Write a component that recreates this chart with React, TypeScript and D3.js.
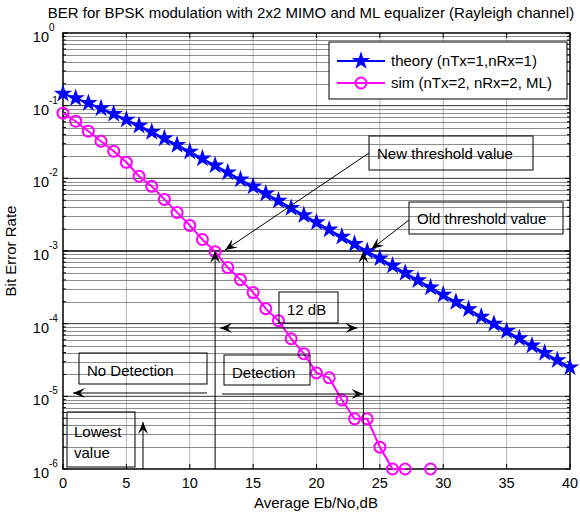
import React from 'react';
import * as d3 from 'd3';

// Eb/No in dB
const ebNo = d3.range(0, 41);
const theoryBer = [
  0.1464, 0.1267, 0.1085, 0.0919, 0.0771, 0.0642, 0.053, 0.0435, 0.0355, 0.0288,
  0.0233, 0.01874, 0.01506, 0.01208, 0.00967, 0.00772, 0.00617, 0.00492, 0.00391, 0.00311,
  0.00248, 0.00197, 0.00157, 0.00125, 0.000995, 0.000791, 0.000628, 0.000499, 0.000396, 0.000315,
  0.00025, 0.000199, 0.000158, 0.000125, 0.0000995, 0.0000791, 0.0000628, 0.0000499, 0.0000396, 0.0000315,
  0.000025,
];
// null = no errors counted (not plotted on log axis)
const simBer = [
  0.0788, 0.0611, 0.0445, 0.0324, 0.0236, 0.0166, 0.0107, 0.00776, 0.00513, 0.0034,
  0.00225, 0.00144, 0.00098, 0.000592, 0.000404, 0.000268, 0.000161, 0.00011, 0.000062, 0.0000386,
  0.000021, 0.000018, 0.0000089, 0.0000049, 0.0000049, 0.000002, 0.000001, 0.000001, null, 0.000001,
];
const xTicks = [0, 5, 10, 15, 20, 25, 30, 35, 40];
const yExps = [0, -1, -2, -3, -4, -5, -6];
const legendLabels = ['theory (nTx=1,nRx=1)', 'sim (nTx=2, nRx=2, ML)'];
const titleText = 'BER for BPSK modulation with 2x2 MIMO and ML equalizer (Rayleigh channel)';

const W = 580;
const H = 517;
const margin = { top: 33, right: 10, bottom: 48, left: 63 };
const font = 'Arial, "Liberation Sans", sans-serif';
const fs = 15;

const x = d3.scaleLinear().domain([0, 40]).range([margin.left, W - margin.right]);
const y = d3.scaleLog().domain([1e-6, 1]).range([H - margin.bottom, margin.top]);

const minorVals: number[] = [];
yExps.slice(1).forEach(e => {
  for (let k = 2; k <= 9; k++) minorVals.push(k * Math.pow(10, e));
});

// MATLAB-like filled arrowhead, tip at (x2,y2)
function arrowHead(x1: number, y1: number, x2: number, y2: number, len = 12, wid = 5) {
  const a = Math.atan2(y2 - y1, x2 - x1);
  const ux = Math.cos(a), uy = Math.sin(a);
  const px = -uy, py = ux;
  const bx = x2 - ux * len, by = y2 - uy * len;
  const nx = x2 - ux * len * 0.6, ny = y2 - uy * len * 0.6;
  return `M${x2},${y2}L${bx + px * wid},${by + py * wid}L${nx},${ny}L${bx - px * wid},${by - py * wid}Z`;
}

const Arrow = ({ x1, y1, x2, y2, both = false }: any) => (
  <g>
    <line x1={x1} y1={y1} x2={x2} y2={y2} stroke="#000" strokeWidth={1} />
    <path d={arrowHead(x1, y1, x2, y2)} fill="#000" />
    {both && <path d={arrowHead(x2, y2, x1, y1)} fill="#000" />}
  </g>
);

const Box = ({ x0, y0, w, h }: any) => (
  <rect x={x0} y={y0} width={w} height={h} fill="none" stroke="#000" strokeWidth={1} />
);

export default function App() {
  const x0 = margin.left, x1 = W - margin.right;
  const y0 = margin.top, y1 = H - margin.bottom;

  const theoryPts = ebNo.map((d, i) => [d, theoryBer[i]] as [number, number]);
  const simPts = simBer.map((v, i) => [i, v] as [number, number | null]);

  const line = d3.line<[number, number | null]>()
    .defined(d => d[1] != null)
    .x(d => x(d[0]))
    .y(d => y(d[1] as number));

  const star = d3.symbol().type(d3.symbolStar).size(105)();

  const thr = y(1e-3);
  const xa = x(12);
  const xb = x(23.7);

  return (
    <div style={{ position: 'absolute', left: 0, top: 0 }}>
      <svg width={W} height={H} style={{ display: 'block', background: '#fff' }} fontFamily={font}>
        <rect width={W} height={H} fill="#fff" />
        {/* grid */}
        {xTicks.slice(1, -1).map(t => (
          <line key={'gx' + t} x1={x(t)} x2={x(t)} y1={y0} y2={y1} stroke="#b4b4b4" strokeWidth={1} />
        ))}
        {minorVals.map(v => (
          <line key={'gm' + v} x1={x0} x2={x1} y1={Math.round(y(v)) + 0.5} y2={Math.round(y(v)) + 0.5} stroke="#6e6e6e" strokeWidth={0.8} />
        ))}
        {yExps.slice(1, -1).map(e => (
          <line key={'gy' + e} x1={x0} x2={x1} y1={y(Math.pow(10, e))} y2={y(Math.pow(10, e))} stroke={e === -3 ? '#000' : '#333'} strokeWidth={e === -3 ? 1.6 : 1} />
        ))}

        {/* axes frame and ticks */}
        <rect x={x0} y={y0} width={x1 - x0} height={y1 - y0} fill="none" stroke="#000" strokeWidth={1.5} />
        {xTicks.map(t => (
          <g key={'tx' + t}>
            <line x1={x(t)} x2={x(t)} y1={y1} y2={y1 - 5} stroke="#000" />
            <line x1={x(t)} x2={x(t)} y1={y0} y2={y0 + 5} stroke="#000" />
            <text x={x(t)} y={y1 + 19} textAnchor="middle" fontSize={14.5}>{t}</text>
          </g>
        ))}
        {yExps.map(e => (
          <g key={'ty' + e}>
            <line x1={x0} x2={x0 + 5} y1={y(Math.pow(10, e))} y2={y(Math.pow(10, e))} stroke="#000" />
            <line x1={x1} x2={x1 - 5} y1={y(Math.pow(10, e))} y2={y(Math.pow(10, e))} stroke="#000" />
            <text x={49} y={y(Math.pow(10, e)) + 9} textAnchor="end" fontSize={14.5}>10</text>
            <text x={49} y={y(Math.pow(10, e)) - 2} textAnchor="start" fontSize={10}>{e}</text>
          </g>
        ))}
        {minorVals.map(v => (
          <g key={'tm' + v}>
            <line x1={x0} x2={x0 + 3} y1={y(v)} y2={y(v)} stroke="#000" />
            <line x1={x1} x2={x1 - 3} y1={y(v)} y2={y(v)} stroke="#000" />
          </g>
        ))}

        {/* series */}
        <path d={line(theoryPts) || ''} fill="none" stroke="#0000ff" strokeWidth={2} />
        {theoryPts.map(d => (
          <path key={'s' + d[0]} d={star || ''} transform={`translate(${x(d[0])},${y(d[1])})`} fill="#0000ff" />
        ))}
        <path d={line(simPts) || ''} fill="none" stroke="#ff00ff" strokeWidth={2} />
        {simPts.filter(d => d[1] != null).map(d => (
          <circle key={'c' + d[0]} cx={x(d[0])} cy={y(d[1] as number)} r={5.5} fill="none" stroke="#ff00ff" strokeWidth={2} />
        ))}

        {/* annotations */}
        <Box x0={369} y0={136} w={164} h={34} />
        <text x={377} y={159} fontSize={fs}>New threshold value</text>
        <Arrow x1={369} y1={153} x2={xa + 10} y2={thr - 1} />

        <Box x0={409} y0={202} w={154} h={32} />
        <text x={417} y={224} fontSize={fs}>Old threshold value</text>
        <Arrow x1={409} y1={220} x2={xb + 8} y2={thr - 2} />

        <line x1={xa} x2={xa} y1={thr} y2={y1} stroke="#000" />
        <path d={arrowHead(xa, y1, xa, thr)} fill="#000" />
        <line x1={xb} x2={xb} y1={thr} y2={y1} stroke="#000" />
        <path d={arrowHead(xb, y1, xb, thr)} fill="#000" />

        <Box x0={279} y0={292} w={59} h={31} />
        <text x={287} y={315} fontSize={fs}>12 dB</text>
        <Arrow x1={xa + 5} y1={328} x2={xb - 6} y2={328} both />

        <Box x0={79} y0={353} w={128} h={31} />
        <text x={87} y={376} fontSize={fs}>No Detection</text>
        <Arrow x1={207} y1={393} x2={73} y2={393} />

        <Box x0={224} y0={355} w={86} h={30} />
        <text x={232} y={378} fontSize={fs}>Detection</text>
        <Arrow x1={222} y1={394} x2={xb} y2={394} />

        <Box x0={67} y0={412} w={68} h={55} />
        <text x={74} y={437} fontSize={fs}>Lowest</text>
        <text x={74} y={458} fontSize={fs}>value</text>
        <Arrow x1={143} y1={y1} x2={143} y2={422} />

        {/* legend */}
        <rect x={329} y={42} width={238} height={57} fill="#fff" stroke="#000" strokeWidth={1} />
        <line x1={337} x2={385} y1={61} y2={61} stroke="#0000ff" strokeWidth={2} />
        <path d={star || ''} transform="translate(361,61)" fill="#0000ff" />
        <text x={391} y={66} fontSize={fs}>{legendLabels[0]}</text>
        <line x1={337} x2={385} y1={83} y2={83} stroke="#ff00ff" strokeWidth={2} />
        <circle cx={361} cy={83} r={5.5} fill="none" stroke="#ff00ff" strokeWidth={2} />
        <text x={391} y={88} fontSize={fs}>{legendLabels[1]}</text>

        {/* labels */}
        <text x={311} y={18} textAnchor="middle" fontSize={fs}>{titleText}</text>
        <text x={316} y={508} textAnchor="middle" fontSize={fs}>Average Eb/No,dB</text>
        <text transform={`translate(16,${(y0 + y1) / 2}) rotate(-90)`} textAnchor="middle" fontSize={fs}>Bit Error Rate</text>
      </svg>
    </div>
  );
}
